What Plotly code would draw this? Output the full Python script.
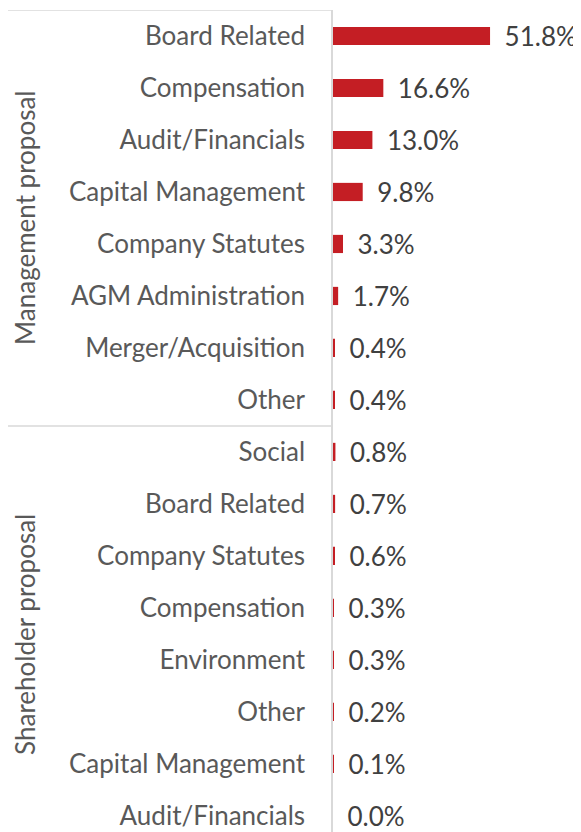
import plotly.graph_objects as go

group_names = ["Management proposal", "Shareholder proposal"]
group_sizes = [8, 8]
categories = [
    "Board Related", "Compensation", "Audit/Financials", "Capital Management",
    "Company Statutes", "AGM Administration", "Merger/Acquisition", "Other",
    "Social", "Board Related", "Company Statutes", "Compensation",
    "Environment", "Other", "Capital Management", "Audit/Financials",
]
shares = [51.8, 16.6, 13.0, 9.8, 3.3, 1.7, 0.4, 0.4,
          0.8, 0.7, 0.6, 0.3, 0.3, 0.2, 0.1, 0.0]

font = "Lato"
bar_red = "#C41E24"
line_grey = "#D9D9D9"
rows = list(range(len(categories)))

fig = go.Figure(go.Bar(
    x=shares,
    y=rows,
    orientation="h",
    width=0.35,
    marker=dict(color=bar_red, line=dict(width=0)),
    text=["\u00a0\u2009\u200a" + f"{v:.1f}%" for v in shares],
    textposition="outside",
    constraintext="none",
    textfont=dict(family=font, size=26, color="#404040"),
    cliponaxis=False,
))

# group separators and rotated group labels, left of the category labels
shapes = []
annotations = []
start = 0
for name, size in zip(group_names, group_sizes):
    shapes.append(dict(type="line", xref="paper", yref="y",
                       x0=-1.322, x1=0, y0=start - 0.5, y1=start - 0.5,
                       line=dict(color=line_grey, width=1.5)))
    annotations.append(dict(text=name, xref="paper", yref="y",
                            x=-1.242, y=start + (size - 1) / 2,
                            xanchor="center", yanchor="middle",
                            textangle=-90, showarrow=False,
                            font=dict(family=font, size=26, color="#595959")))
    start += size

# the page body adds an 8px margin, so the figure is sized to fit the window
fig.update_layout(
    width=573, height=824,
    margin=dict(l=325, r=0, t=2, b=0),
    paper_bgcolor="white", plot_bgcolor="white",
    showlegend=False,
    shapes=shapes,
    annotations=annotations,
    xaxis=dict(range=[0, 81.8], visible=False, automargin=False),
    yaxis=dict(
        range=[15.31, -0.5], automargin=False,
        tickmode="array", tickvals=rows, ticktext=categories,
        showline=True, linecolor=line_grey, linewidth=1.5,
        showgrid=False, zeroline=False,
        ticks="", ticklabelstandoff=21,
        tickfont=dict(family=font, size=26, color="#595959"),
    ),
)

fig.write_html("out.html")
